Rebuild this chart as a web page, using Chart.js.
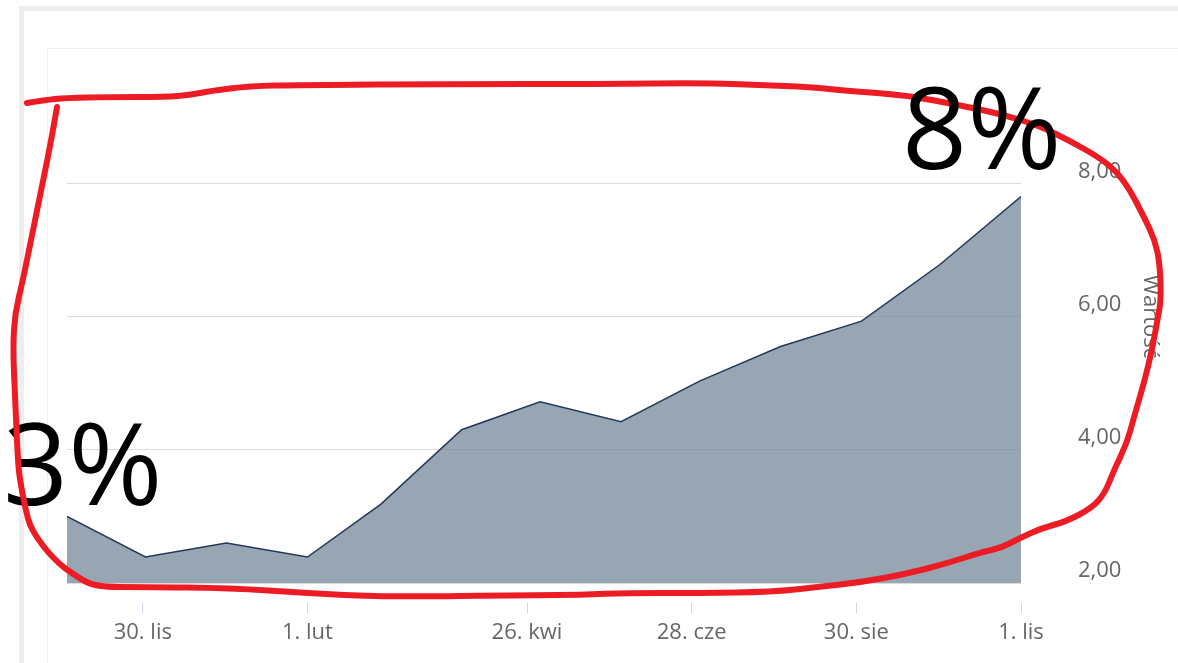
<!DOCTYPE html>
<html>
<head>
<meta charset="utf-8">
<script src="https://cdn.jsdelivr.net/npm/chart.js@4.4.0/dist/chart.umd.min.js"></script>
<style>
    body { margin: 0; background: #fff; overflow: hidden; }
    #wrap { position: relative; width: 1178px; height: 663px; }
    .frame { position: absolute; width: 3000px; height: 3000px; }
    #outer { left: 19px; top: 6px; border-left: 5px solid #eeeeee; border-top: 5px solid #eeeeee; }
    #inner { left: 47px; top: 48px; border-left: 1px solid #f0f0f0; border-top: 1px solid #f0f0f0; }
    #chart { position: absolute; left: 0; top: 0; }
</style>
</head>
<body>
<div id="wrap">
    <div class="frame" id="outer"></div>
    <div class="frame" id="inner"></div>
    <canvas id="chart" width="1178" height="663"></canvas>
</div>
<script>
// Monthly readings (dates) and values
const pointDates = ['2014-11-01', '2014-12-01', '2015-01-01', '2015-02-01', '2015-03-01', '2015-04-01',
    '2015-05-01', '2015-06-01', '2015-07-01', '2015-08-01', '2015-09-01', '2015-10-01', '2015-11-01'];
const values = [3.0, 2.39, 2.6, 2.39, 3.18, 4.3, 4.72, 4.42, 5.03, 5.55, 5.93, 6.78, 7.8];

// x axis ticks
const tickDates = ['2014-11-30', '2015-02-01', '2015-04-26', '2015-06-28', '2015-08-30', '2015-11-01'];
const tickLabels = ['30. lis', '1. lut', '26. kwi', '28. cze', '30. sie', '1. lis'];

// y axis
const yTicks = [2, 4, 6, 8];
const yTitle = 'Wartość';

// hand-drawn annotation on top of the screenshot
const noteLeft = '3%';
const noteRight = '8%';
const redLoop = [
    [27, 103], [45, 100], [65, 98], [110, 97], [165, 97], [190, 95], [210, 91], [250, 86], [300, 85],
    [450, 84], [600, 84], [706, 83], [760, 85], [810, 87], [848, 91], [906, 95], [963, 106], [1001, 114],
    [1040, 126], [1072, 142], [1100, 158], [1117, 172], [1130, 190], [1143, 215], [1155, 240], [1160, 265],
    [1161, 300], [1158, 317], [1152, 350], [1144, 383], [1134, 417], [1127, 443], [1114, 470], [1105, 493],
    [1092, 508], [1065, 522], [1042, 528], [1020, 538], [1001, 548], [982, 552], [948, 563], [910, 573],
    [863, 582], [818, 587], [772, 592], [700, 593], [618, 593], [580, 595], [536, 595], [383, 597],
    [306, 593], [230, 588], [142, 587], [96, 587], [77, 577], [54, 560], [31, 530], [25, 507], [20, 480],
    [18, 463], [15, 397], [13, 347], [15, 313], [23, 280], [33, 230], [50, 147], [57, 107]
];

const DAY = 86400000;
const start = Date.parse(pointDates[0]);
const toDay = d => Math.round((Date.parse(d) - start) / DAY);
const tickDays = tickDates.map(toDay);
const points = pointDates.map((d, i) => ({ x: toDay(d), y: values[i] }));

const FONT = '"Open Sans", "DejaVu Sans", sans-serif';

const annotationPlugin = {
    id: 'annotation',
    afterDraw(chart) {
        const ctx = chart.ctx;
        ctx.save();
        ctx.fillStyle = '#000';
        ctx.font = '114px ' + FONT;
        ctx.textBaseline = 'alphabetic';
        ctx.fillText(noteLeft, 3, 505);

        // red freehand loop
        ctx.strokeStyle = '#ed1c24';
        ctx.lineWidth = 6;
        ctx.lineCap = 'round';
        ctx.lineJoin = 'round';
        ctx.beginPath();
        ctx.moveTo(redLoop[0][0], redLoop[0][1]);
        for (let i = 1; i < redLoop.length - 1; i++) {
            const mx = (redLoop[i][0] + redLoop[i + 1][0]) / 2;
            const my = (redLoop[i][1] + redLoop[i + 1][1]) / 2;
            ctx.quadraticCurveTo(redLoop[i][0], redLoop[i][1], mx, my);
        }
        const last = redLoop[redLoop.length - 1];
        ctx.lineTo(last[0], last[1]);
        ctx.stroke();

        ctx.fillText(noteRight, 902, 169);
        ctx.restore();
    }
};

new Chart(document.getElementById('chart'), {
    type: 'line',
    data: {
        datasets: [{
            data: points,
            borderColor: '#22375a',
            borderWidth: 1.5,
            backgroundColor: 'rgba(118, 135, 154, 0.75)',
            fill: 'start',
            pointRadius: 0,
            tension: 0
        }]
    },
    options: {
        responsive: false,
        animation: false,
        layout: { padding: { left: 67, top: 50, right: 0, bottom: 0 } },
        plugins: {
            legend: { display: false },
            tooltip: { enabled: false }
        },
        scales: {
            x: {
                type: 'linear',
                min: 0,
                max: toDay(pointDates[pointDates.length - 1]),
                afterBuildTicks: scale => { scale.ticks = tickDays.map(v => ({ value: v })); },
                afterFit: scale => { scale.height = 80; },
                border: { display: false },
                grid: {
                    drawOnChartArea: false,
                    drawTicks: true,
                    tickLength: 30,
                    tickColor: '#ccd6eb',
                    tickBorderDash: [0, 20, 10, 1000]
                },
                ticks: {
                    autoSkip: false,
                    maxRotation: 0,
                    padding: 7,
                    color: '#666666',
                    font: { family: FONT, size: 22 },
                    callback: value => tickLabels[tickDays.indexOf(value)]
                }
            },
            y: {
                position: 'right',
                min: 2,
                max: 10,
                afterBuildTicks: scale => { scale.ticks = yTicks.concat([10]).map(v => ({ value: v })); },
                afterFit: scale => { scale.width = 157; },
                border: { display: false },
                grid: {
                    drawTicks: true,
                    tickLength: 57,
                    tickColor: 'rgba(0,0,0,0)',
                    color: ctx => (ctx.tick && ctx.tick.value === 10) ? 'rgba(0,0,0,0)' : '#dcdcdc'
                },
                ticks: {
                    padding: 0,
                    labelOffset: -12,
                    color: '#666666',
                    font: { family: FONT, size: 22 },
                    callback: value => yTicks.includes(value) ? value.toFixed(2).replace('.', ',') : ''
                },
                title: {
                    display: true,
                    text: yTitle,
                    color: '#666666',
                    font: { family: FONT, size: 22 },
                    padding: { top: 15, bottom: 0 }
                }
            }
        }
    },
    plugins: [annotationPlugin]
});
</script>
</body>
</html>
